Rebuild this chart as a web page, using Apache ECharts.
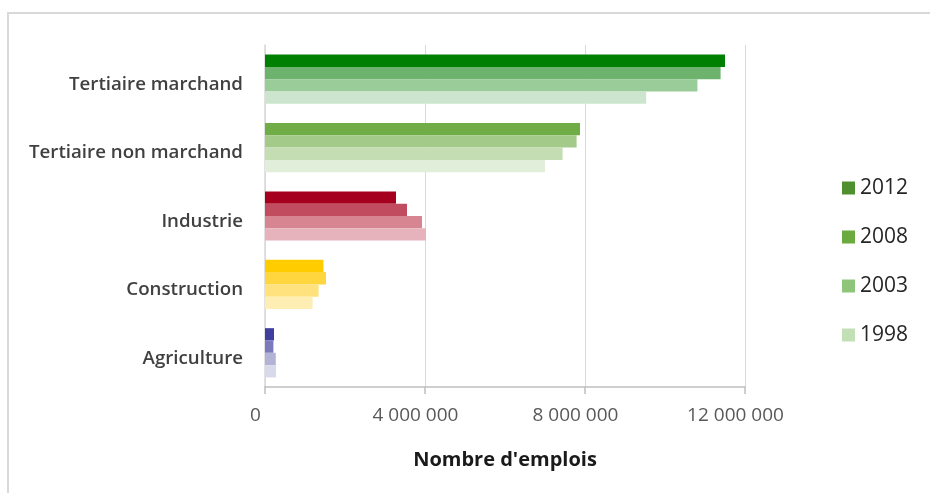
<!DOCTYPE html>
<html>
<head>
<meta charset="utf-8">
<script src="https://cdn.jsdelivr.net/npm/echarts@6/dist/echarts.min.js"></script>
<style>
  html, body { margin: 0; padding: 0; background: #fff; }
  #chart { width: 930px; height: 493px; }
</style>
</head>
<body>
<div id="chart"></div>
<script>
// Employment by sector, France
const categories = ['Tertiaire marchand', 'Tertiaire non marchand', 'Industrie', 'Construction', 'Agriculture'];
const years = ['2012', '2008', '2003', '1998'];
const jobs2012 = [11500000, 7875000, 3275000, 1460000, 225000];
const jobs2008 = [11390000, 7790000, 3550000, 1525000, 210000];
const jobs2003 = [10810000, 7440000, 3925000, 1340000, 270000];
const jobs1998 = [9530000, 7000000, 4025000, 1190000, 275000];
const xTicks = [0, 4000000, 8000000, 12000000];

// Shades per sector, darkest for the latest year
const sectorShades = [
  ['#008000', '#6db36d', '#99cc99', '#cce5cc'],
  ['#70ad47', '#a3ca88', '#c4ddb3', '#e1eed9'],
  ['#a5001e', '#c14b5f', '#d68591', '#e6b3bc'],
  ['#ffcc00', '#ffd63d', '#ffe27d', '#ffeeb3'],
  ['#3f3f9f', '#7a7abc', '#b3b3d8', '#d9d9ec']
];
const legendShades = ['#4f8f2f', '#6aaa3e', '#8fc57a', '#c3dfb6'];

const seriesValues = [jobs2012, jobs2008, jobs2003, jobs1998];

const fmt = v => String(v).replace(/\B(?=(\d{3})+(?!\d))/g, ' ');

const FONT = 'Open Sans';

const chart = echarts.init(document.getElementById('chart'));
chart.setOption({
  animation: false,
  backgroundColor: '#ffffff',
  textStyle: { fontFamily: FONT },
  graphic: [{
    type: 'rect',
    shape: { x: 8, y: 13, width: 1000, height: 600 },
    style: { fill: 'none', stroke: '#d9d9d9', lineWidth: 2 },
    silent: true
  }],
  grid: { left: 265, right: 185, top: 45, bottom: 106, containLabel: false },
  legend: {
    orient: 'vertical',
    left: 842,
    top: 177,
    padding: 0,
    itemWidth: 13,
    itemHeight: 13,
    itemGap: 27,
    icon: 'rect',
    textStyle: { fontSize: 21, color: '#262626', fontFamily: FONT, lineHeight: 22 },
    data: years
  },
  xAxis: {
    type: 'value',
    min: xTicks[0],
    max: xTicks[xTicks.length - 1],
    interval: xTicks[1] - xTicks[0],
    name: "Nombre d'emplois",
    nameLocation: 'middle',
    nameGap: 63,
    nameTextStyle: { fontSize: 20, fontWeight: 'bold', color: '#1a1a1a', fontFamily: FONT },
    axisLine: { show: true, lineStyle: { color: '#bfbfbf', width: 1.5 } },
    axisTick: { show: true, length: 7, lineStyle: { color: '#bfbfbf', width: 1.5 } },
    axisLabel: { formatter: fmt, fontSize: 19, color: '#595959', margin: 19, padding: [0, 19, 0, 0] },
    splitLine: { show: true, lineStyle: { color: '#d9d9d9', width: 1 } }
  },
  yAxis: {
    type: 'category',
    inverse: true,
    data: categories,
    axisLine: { show: true, lineStyle: { color: '#d9d9d9', width: 1.5 } },
    axisTick: { show: false },
    axisLabel: {
      fontSize: 18.7, fontWeight: 600, color: '#404040', margin: 22,
      verticalAlign: 'top', lineHeight: 11
    }
  },
  series: years.map((y, si) => ({
    name: y,
    type: 'bar',
    barGap: '0%',
    barCategoryGap: '28%',
    itemStyle: { color: legendShades[si] },
    data: seriesValues[si].map((v, ci) => ({
      value: v,
      itemStyle: { color: sectorShades[ci][si] }
    }))
  }))
});
</script>
</body>
</html>
